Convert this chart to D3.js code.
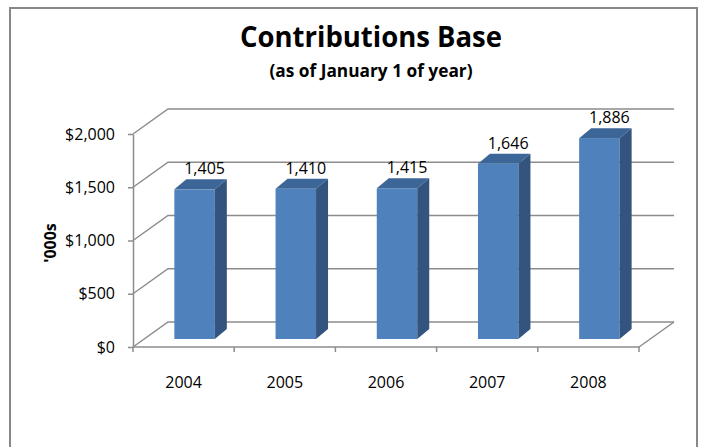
<!DOCTYPE html>
<html>
<head>
<meta charset="utf-8">
<script src="https://cdn.jsdelivr.net/npm/d3@7"></script>
<style>
  body { margin: 0; background: #fff; }
  svg { display: block; font-family: "Open Sans", sans-serif; }
</style>
</head>
<body>
<svg id="chart" width="702" height="447"></svg>
<script>
const years = ['2004', '2005', '2006', '2007', '2008'];
const values = [1405, 1410, 1415, 1646, 1886];
const yTicks = [0, 500, 1000, 1500, 2000];

const svg = d3.select('#chart');

// 3d offsets
const wallDx = 35, wallDy = -25;     // depth of back wall
const barOffX = 11, barOffY = -8;    // front face of bars sits a bit inside
const barDx = 12, barDy = -10;       // bar thickness

const x = d3.scaleBand()
    .domain(years)
    .range([133, 639])
    .paddingInner(0.6)
    .paddingOuter(0.3);

const y = d3.scaleLinear()
    .domain([0, 2000])
    .range([347, 134]);

const gray = '#8c8c8c';

// chart border
svg.append('rect')
    .attr('x', 10).attr('y', 8)
    .attr('width', 687).attr('height', 460)
    .attr('fill', 'none')
    .attr('stroke', '#888')
    .attr('stroke-width', 2);

// title
svg.append('text')
    .attr('x', 371).attr('y', 47)
    .attr('text-anchor', 'middle')
    .attr('font-size', 28)
    .attr('font-weight', 'bold')
    .attr('textLength', 262)
    .attr('lengthAdjust', 'spacingAndGlyphs')
    .text('Contributions Base');

svg.append('text')
    .attr('x', 371).attr('y', 77)
    .attr('text-anchor', 'middle')
    .attr('font-size', 17)
    .attr('font-weight', 'bold')
    .attr('textLength', 203)
    .attr('lengthAdjust', 'spacingAndGlyphs')
    .text('(as of January 1 of year)');

const x0 = x.range()[0], x1 = x.range()[1];

// gridlines: left wall diagonal + back wall horizontal
const grid = svg.append('g').attr('stroke', gray).attr('stroke-width', 1.5).attr('fill', 'none');
yTicks.forEach(t => {
    grid.append('path')
        .attr('d', `M${x0},${y(t)} L${x0 + wallDx},${y(t) + wallDy} L${x1 + wallDx},${y(t) + wallDy}`);
});
// floor right edge
grid.append('line')
    .attr('x1', x1).attr('y1', y(0))
    .attr('x2', x1 + wallDx).attr('y2', y(0) + wallDy);

// y axis
const yAxis = svg.append('g')
    .attr('transform', `translate(${x0},0)`)
    .call(d3.axisLeft(y)
        .tickValues(yTicks)
        .tickSize(5)
        .tickSizeOuter(0)
        .tickPadding(13)
        .tickFormat(d => '$' + d3.format(',')(d)));
yAxis.select('.domain').attr('stroke', gray).attr('stroke-width', 1.5);
yAxis.selectAll('.tick line').attr('stroke', gray).attr('stroke-width', 1.5);
yAxis.selectAll('text').attr('font-size', 16).attr('fill', '#000').attr('font-family', '"Open Sans", sans-serif');

// x axis line and boundary ticks
const xg = svg.append('g');
xg.append('line')
    .attr('x1', x0).attr('x2', x1)
    .attr('y1', y(0)).attr('y2', y(0))
    .attr('stroke', gray).attr('stroke-width', 1.5);
const bounds = years.map((d, i) => x0 + i * x.step()).concat([x1]);
xg.selectAll('.bt')
    .data(bounds)
    .enter()
    .append('line')
    .attr('x1', d => d).attr('x2', d => d)
    .attr('y1', y(0)).attr('y2', y(0) + 5)
    .attr('stroke', gray).attr('stroke-width', 1.5);

const xAxis = svg.append('g')
    .attr('transform', `translate(0,${y(0)})`)
    .call(d3.axisBottom(x).tickSize(0).tickPadding(30));
xAxis.select('.domain').remove();
xAxis.selectAll('text').attr('font-size', 16).attr('fill', '#000').attr('font-family', '"Open Sans", sans-serif');

// y title
svg.append('text')
    .attr('transform', 'translate(56,243) rotate(-90)')
    .attr('text-anchor', 'middle')
    .attr('font-size', 16)
    .attr('font-weight', 'bold')
    .text("'000s");

// bars
const data = years.map((d, i) => ({ year: d, value: values[i] }));
const bars = svg.append('g').selectAll('g')
    .data(data)
    .enter()
    .append('g');

const fx = d => x(d.year) + barOffX;
const fyTop = d => y(d.value) + barOffY;
const fyBot = y(0) + barOffY;
const bw = x.bandwidth();

bars.append('rect')
    .attr('x', fx)
    .attr('y', fyTop)
    .attr('width', bw)
    .attr('height', d => fyBot - fyTop(d))
    .attr('fill', '#4f81bd');

bars.append('path')
    .attr('d', d => {
        const l = fx(d), t = fyTop(d);
        return `M${l},${t} L${l + barDx},${t + barDy} L${l + bw + barDx},${t + barDy} L${l + bw},${t} Z`;
    })
    .attr('fill', '#3c6697');

bars.append('path')
    .attr('d', d => {
        const r = fx(d) + bw, t = fyTop(d);
        return `M${r},${t} L${r + barDx},${t + barDy} L${r + barDx},${fyBot + barDy} L${r},${fyBot} Z`;
    })
    .attr('fill', '#32547f');

bars.append('text')
    .attr('x', d => fx(d) + bw / 2 + 10)
    .attr('y', d => fyTop(d) + barDy - 5)
    .attr('text-anchor', 'middle')
    .attr('font-size', 16)
    .text(d => d3.format(',')(d.value));
</script>
</body>
</html>
